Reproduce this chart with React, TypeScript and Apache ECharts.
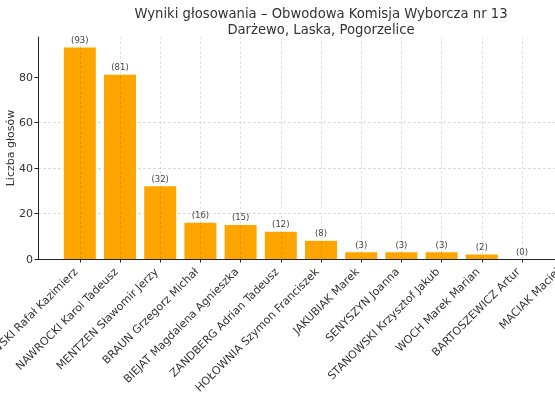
import * as echarts from 'echarts';
import React, { useEffect, useRef } from 'react';

const candidates = [
  'TRZASKOWSKI Rafał Kazimierz',
  'NAWROCKI Karol Tadeusz',
  'MENTZEN Sławomir Jerzy',
  'BRAUN Grzegorz Michał',
  'BIEJAT Magdalena Agnieszka',
  'ZANDBERG Adrian Tadeusz',
  'HOŁOWNIA Szymon Franciszek',
  'JAKUBIAK Marek',
  'SENYSZYN Joanna',
  'STANOWSKI Krzysztof Jakub',
  'WOCH Marek Marian',
  'BARTOSZEWICZ Artur',
  'MACIAK Maciej',
];
const votes = [93, 81, 32, 16, 15, 12, 8, 3, 3, 3, 2, 0, 0];
const yTicks = [0, 20, 40, 60, 80];
const titleText =
  'Wyniki głosowania – Obwodowa Komisja Wyborcza nr 13\nDarżewo, Laska, Pogorzelice';

const font = 'DejaVu Sans';
const idx = candidates.map((_, i) => i);

const App: React.FC = () => {
  const chartRef = useRef<HTMLDivElement>(null);

  useEffect(() => {
    if (!chartRef.current) return;
    const chart = echarts.init(chartRef.current, undefined, { renderer: 'svg' });
    chart.setOption({
      animation: false,
      textStyle: { fontFamily: font },
      title: {
        text: titleText,
        left: 321,
        top: 5,
        padding: 0,
        textAlign: 'center',
        textStyle: { fontFamily: font, fontSize: 13.2, fontWeight: 'normal', color: '#333', lineHeight: 16.5 },
      },
      // plot area runs past the right edge, as in the cropped original
      grid: { left: 38, top: 37, bottom: 141, width: 566, containLabel: false, outerBoundsMode: 'none' },
      xAxis: {
        type: 'value',
        min: -1.04,
        max: 13.04,
        axisLine: { show: true, onZero: false, lineStyle: { color: '#222', width: 1 } },
        axisTick: { show: true, customValues: idx, length: 3.5, lineStyle: { color: '#222' } },
        axisLabel: {
          customValues: idx,
          rotate: 45,
          margin: 7,
          padding: [0, 5.5, 0, 0],
          fontSize: 11,
          color: '#333',
          hideOverlap: false,
          formatter: (v: number) => candidates[Math.round(v)] ?? '',
        },
        splitLine: { show: false },
      },
      yAxis: {
        type: 'value',
        min: 0,
        max: 97.65,
        interval: 20,
        name: 'Liczba głosów',
        nameLocation: 'middle',
        nameGap: 22,
        nameMoveOverlap: false,
        nameTextStyle: { fontSize: 11, color: '#333' },
        axisLine: { show: true, onZero: false, lineStyle: { color: '#222', width: 1 } },
        axisTick: { show: true, customValues: yTicks, length: 3.5, lineStyle: { color: '#222' } },
        axisLabel: { customValues: yTicks, fontSize: 11, color: '#333', margin: 5 },
        splitLine: {
          show: true,
          showMaxLine: false,
          lineStyle: { type: [3, 2], color: '#d2d2d2', width: 0.8 },
        },
      },
      series: [
        {
          type: 'bar',
          data: votes.map((v, i) => [i, v]),
          barWidth: 32,
          itemStyle: { color: '#FFA500' },
          label: {
            show: true,
            position: 'top',
            distance: 3,
            fontSize: 8.5,
            color: '#444',
            formatter: (p: any) => `(${p.value[1]})`,
          },
          markLine: {
            silent: true,
            symbol: 'none',
            label: { show: false },
            lineStyle: { type: [3, 2], color: 'rgba(0,0,0,0.14)', width: 0.8 },
            data: idx.map((i) => ({ xAxis: i })),
          },
        },
      ],
    });
    return () => {
      chart.dispose();
    };
  }, []);

  return (
    <div
      ref={chartRef}
      style={{ position: 'fixed', left: 0, top: 0, width: 555, height: 400, overflow: 'hidden' }}
    />
  );
};

export default App;
